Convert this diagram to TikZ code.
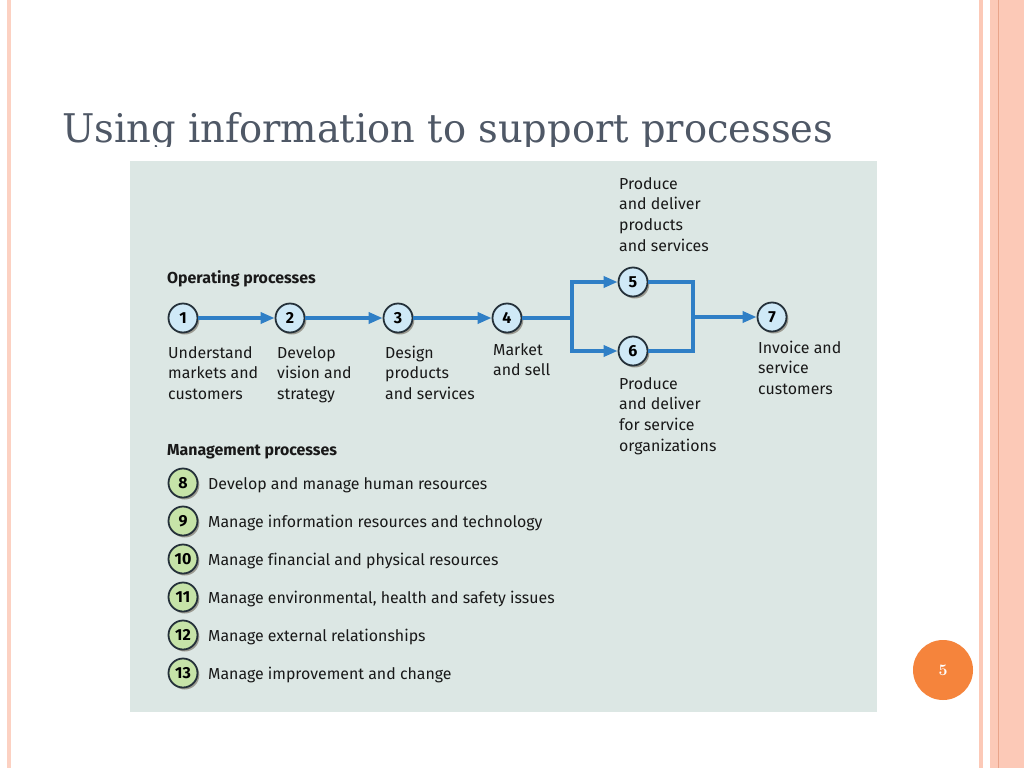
\documentclass[tikz,border=0pt]{standalone}
\usepackage{fontspec}
\usetikzlibrary{arrows.meta,shadows}
\newfontfamily\dfont{Fira Sans}[Ligatures=NoCommon]
\newfontfamily\tfont{DejaVu Serif}[Ligatures=NoCommon]
\definecolor{panel}{HTML}{DCE7E4}
\definecolor{arrowblue}{HTML}{2F7FC6}
\definecolor{bluefill}{HTML}{CFE9F7}
\definecolor{greenfill}{HTML}{C6E3A8}
\definecolor{ringcol}{HTML}{25313A}
\definecolor{titlecol}{HTML}{4F5866}
\definecolor{pinkband}{HTML}{FCC9B7}
\definecolor{pinkline}{HTML}{E9A48A}
\definecolor{orangedot}{HTML}{F5843C}
\newcommand\lbl[1]{\begin{tabular}[t]{@{}l@{}}#1\end{tabular}}
\begin{document}
\begin{tikzpicture}[x=1pt,y=-1pt,
  numcirc/.style={circle,draw=ringcol,line width=1.8pt,minimum size=29pt,inner sep=0pt,
    font=\dfont\fontsize{16}{16}\selectfont\bfseries,
    drop shadow={shadow xshift=1.8pt,shadow yshift=-2pt,opacity=0.4,fill=black!70!brown}},
  opc/.style={numcirc,fill=bluefill},
  mgc/.style={numcirc,fill=greenfill},
  txt/.style={anchor=base west,inner sep=0pt,text=black!90,font=\dfont\fontsize{15.9}{20.7}\selectfont},
  head/.style={txt,font=\dfont\fontsize{15.9}{20.7}\selectfont\bfseries},
  flow/.style={draw=arrowblue,line width=3.4pt},
  flowarr/.style={flow,-{Triangle[length=14pt,width=11pt]}},
]
\useasboundingbox (0,0) rectangle (1024,768);
\fill[white] (0,0) rectangle (1024,768);
% side decorations
\fill[pinkband!85] (7,0) rectangle (11,768);
\fill[pinkband] (979,0) rectangle (983,768);
\fill[pinkband] (990,0) rectangle (1024,768);
\draw[pinkline,line width=0.8pt] (998,0) -- (998,768);
% title
\begin{scope}
\clip (0,0) rectangle (1024,146);
\node[anchor=base west,inner sep=0pt,text=titlecol,font=\tfont\fontsize{39.5}{44}\selectfont] (title) at (62,142) {\resizebox{771pt}{\height}{Using information to support processes}};
\end{scope}
% panel
\fill[panel] (130,161) rectangle (877,712);
% operating processes
\node[head] (ophead) at (167,283) {Operating processes};
\node[opc] (c1) at (183,318) {1};
\node[opc] (c2) at (290,318) {2};
\node[opc] (c3) at (398,318) {3};
\node[opc] (c4) at (507,318) {4};
\node[opc] (c5) at (633,282) {5};
\node[opc] (c6) at (633,351) {6};
\node[opc] (c7) at (772,317) {7};
\coordinate (split) at (572,318);
\coordinate (join) at (693,317);
\draw[flowarr] (c1) -- (c2);
\draw[flowarr] (c2) -- (c3);
\draw[flowarr] (c3) -- (c4);
\draw[flow] (c4) -- (split);
\draw[flowarr] (split) |- (c5);
\draw[flowarr] (split) |- (c6);
\draw[flow] (c5) -| (join);
\draw[flow] (c6) -| (join);
\draw[flowarr] (join) -- (c7);
% labels
\node[txt] (l1) at (168,358) {\lbl{Understand\\markets and\\customers}};
\node[txt] (l2) at (277,358) {\lbl{Develop\\vision and\\strategy}};
\node[txt] (l3) at (385,358) {\lbl{Design\\products\\and services}};
\node[txt] (l4) at (493,355) {\lbl{Market\\and sell}};
\node[txt] (l5) at (619,189) {\lbl{Produce\\and deliver\\products\\and services}};
\node[txt] (l6) at (619,389) {\lbl{Produce\\and deliver\\for service\\organizations}};
\node[txt] (l7) at (758,353) {\lbl{Invoice and\\service\\customers}};
% management processes
\node[head] (mghead) at (167,455) {Management processes};
\node[mgc] (c8) at (183,483) {8};
\node[mgc] (c9) at (183,521) {9};
\node[mgc] (c10) at (183,559) {10};
\node[mgc] (c11) at (183,597) {11};
\node[mgc] (c12) at (183,635) {12};
\node[mgc] (c13) at (183,673) {13};
\node[txt] (t8) at (208,489) {Develop and manage human resources};
\node[txt] (t9) at (208,527) {Manage information resources and technology};
\node[txt] (t10) at (208,565) {Manage financial and physical resources};
\node[txt] (t11) at (208,603) {Manage environmental, health and safety issues};
\node[txt] (t12) at (208,641) {Manage external relationships};
\node[txt] (t13) at (208,679) {Manage improvement and change};
% page number
\node[circle,fill=orangedot,minimum size=60pt,inner sep=0pt,text=white,font=\fontsize{16}{16}\selectfont\bfseries] (page) at (943,670) {5};
\end{tikzpicture}
\end{document}
